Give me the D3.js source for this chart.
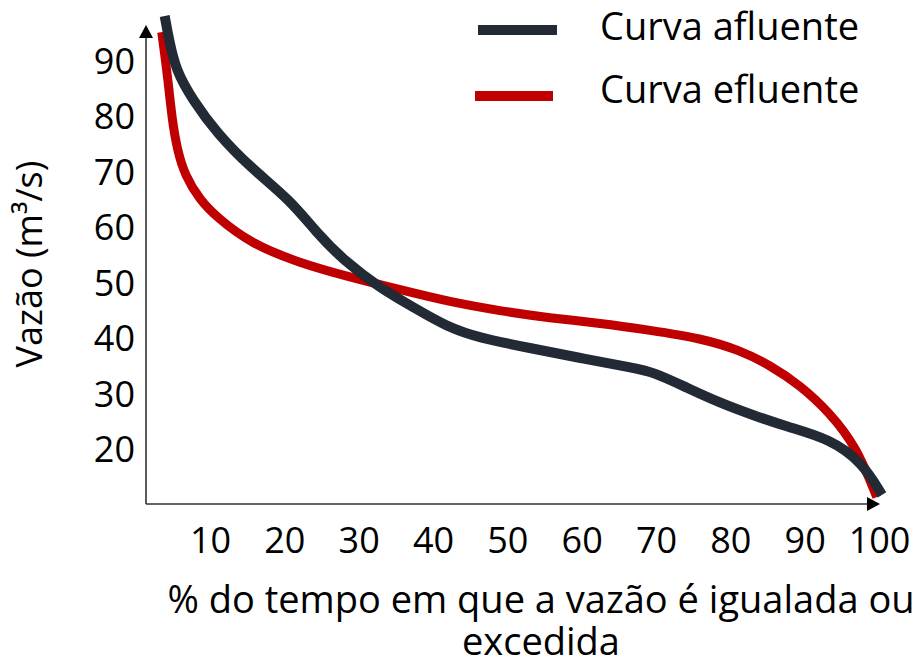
<!DOCTYPE html>
<html>
<head>
<meta charset="utf-8">
<script src="https://cdn.jsdelivr.net/npm/d3@7"></script>
<style>
  html, body { margin: 0; padding: 0; background: #fff; }
  svg { display: block; font-family: "Open Sans", "Noto Sans", sans-serif; }
</style>
</head>
<body>
<svg id="chart" width="918" height="666"></svg>
<script>
// Flow duration curves: inflow vs outflow
const afluentePct   = [3.9, 4.5, 5.4, 7.7, 10.9, 15.4, 20.8, 24.4, 27.9, 32.9, 37.3, 41.9, 46.3, 53.0, 59.8, 66.9, 69.6, 74.2, 78.6, 83.0, 87.6, 93.4, 97.8, 100.4];
const afluenteVazao = [98.3, 93.9, 88.5, 83.1, 77.2, 71.0, 65.1, 59.1, 54.3, 49.2, 45.8, 42.2, 40.2, 38.4, 36.6, 34.8, 34.1, 31.2, 28.5, 26.3, 24.2, 22.0, 17.7, 11.9];

const efluentePct   = [3.5, 4.35, 4.9, 5.6, 6.6, 8.65, 10.9, 15.4, 22.1, 28.8, 35.6, 42.3, 49.0, 55.7, 62.5, 69.2, 75.9, 81.3, 85.3, 89.4, 93.4, 97.0, 99.7];
const efluenteVazao = [95.4, 86.8, 79.5, 74.1, 69.6, 65.1, 62.0, 57.3, 53.7, 51.2, 48.9, 46.7, 45.1, 43.8, 42.9, 41.6, 40.2, 38.0, 35.3, 31.7, 26.7, 20.5, 11.5];

const xTicks = [10, 20, 30, 40, 50, 60, 70, 80, 90, 100];
const yTicks = [20, 30, 40, 50, 60, 70, 80, 90];

const seriesNames  = ["Curva afluente", "Curva efluente"];
const seriesColors = ["#222a35", "#c00000"];

const svg = d3.select("#chart");
const TICK_FONT = 36;
const TEXT_FONT = 38;

const x = d3.scaleLinear().domain([0, 100]).range([135.7, 879]);
const y = d3.scaleLinear().domain([10, 90]).range([505.4, 62]);

const axisX0 = 146, axisY0 = 504;

// Axis lines with arrow heads
svg.append("line").attr("x1", axisX0).attr("y1", axisY0).attr("x2", axisX0).attr("y2", 36)
  .attr("stroke", "#333").attr("stroke-width", 1.6);
svg.append("path").attr("d", `M${axisX0},25 L${axisX0 - 7},38 L${axisX0 + 7},38 Z`).attr("fill", "#000");
svg.append("line").attr("x1", axisX0).attr("y1", axisY0).attr("x2", 868).attr("y2", axisY0)
  .attr("stroke", "#333").attr("stroke-width", 1.6);
svg.append("path").attr("d", `M880,${axisY0} L867,${axisY0 - 7} L867,${axisY0 + 7} Z`).attr("fill", "#000");

// Tick labels
const gx = svg.append("g").attr("transform", `translate(0,${axisY0})`)
  .call(d3.axisBottom(x).tickValues(xTicks).tickSize(0).tickPadding(23.4));
gx.select(".domain").remove();
gx.selectAll("text").attr("font-size", TICK_FONT).attr("font-family", "Open Sans").attr("fill", "#000");

const gy = svg.append("g").attr("transform", `translate(${axisX0},0)`)
  .call(d3.axisLeft(y).tickValues(yTicks).tickSize(0).tickPadding(11));
gy.select(".domain").remove();
gy.selectAll("text").attr("font-size", TICK_FONT).attr("font-family", "Open Sans").attr("fill", "#000");

// Axis titles
svg.append("text").attr("transform", "translate(42,264) rotate(-90)")
  .attr("text-anchor", "middle").attr("font-size", 36).attr("fill", "#000")
  .text("Vazão (m³/s)");

const xTitle = svg.append("text").attr("text-anchor", "middle").attr("font-size", TEXT_FONT).attr("fill", "#000");
xTitle.append("tspan").attr("x", 541).attr("y", 613).text("% do tempo em que a vazão é igualada ou");
xTitle.append("tspan").attr("x", 541).attr("y", 655).text("excedida");

// Curves (B-spline smoothing through the sampled points)
const line = d3.line()
  .x(d => x(d[0]))
  .y(d => y(d[1]))
  .curve(d3.curveBasis);

const efluente = efluentePct.map((p, i) => [p, efluenteVazao[i]]);
const afluente = afluentePct.map((p, i) => [p, afluenteVazao[i]]);

svg.append("path").datum(efluente).attr("d", line)
  .attr("fill", "none").attr("stroke", seriesColors[1]).attr("stroke-width", 9).attr("stroke-linecap", "butt");
svg.append("path").datum(afluente).attr("d", line)
  .attr("fill", "none").attr("stroke", seriesColors[0]).attr("stroke-width", 10).attr("stroke-linecap", "butt");

// Legend
const legendRows = [
  { name: seriesNames[0], color: seriesColors[0], x1: 478, x2: 557, ly: 30, ty: 40 },
  { name: seriesNames[1], color: seriesColors[1], x1: 475, x2: 553, ly: 96, ty: 103 }
];
const lg = svg.append("g");
legendRows.forEach(r => {
  lg.append("line").attr("x1", r.x1).attr("x2", r.x2).attr("y1", r.ly).attr("y2", r.ly)
    .attr("stroke", r.color).attr("stroke-width", 10);
  lg.append("text").attr("x", 600).attr("y", r.ty).attr("font-size", TEXT_FONT).attr("fill", "#000").text(r.name);
});
</script>
</body>
</html>
